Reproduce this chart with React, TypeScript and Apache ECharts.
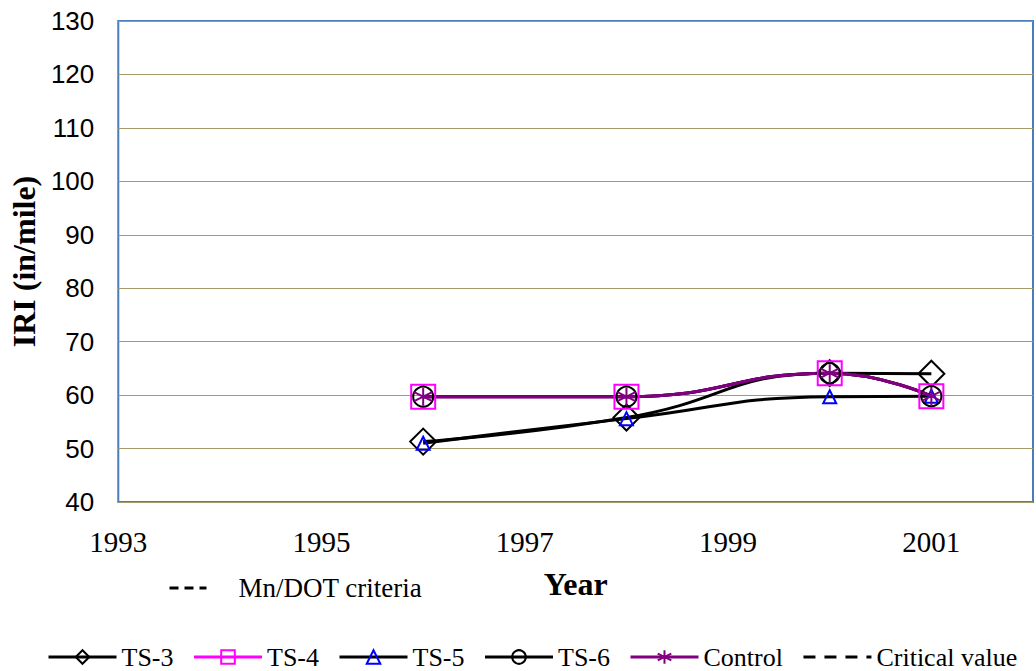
import React, { useEffect, useRef } from "react";
import * as echarts from "echarts";

const years = [1996, 1998, 2000, 2001];
const ts3 = [51.3, 55.8, 64.1, 64.0];
const ts4 = [59.7, 59.7, 64.1, 59.8];
const ts5 = [51.0, 55.6, 59.7, 59.8];
const ts6 = [59.7, 59.7, 64.1, 59.8];
const control = [59.7, 59.7, 64.1, 59.8];

const SERIF = "Liberation Serif";
const SANS = "Liberation Sans";
const ASTERISK = "path://M10,0L10,20M1.34,5L18.66,15M1.34,15L18.66,5";

const pts = (vals: number[]) => years.map((y, i) => [y, vals[i]]);

export default function App() {
  const ref = useRef<HTMLDivElement>(null);
  useEffect(() => {
    if (!ref.current) return;
    const chart = echarts.init(ref.current, undefined, { renderer: "svg" });
    const mk = (
      name: string,
      vals: number[],
      lineColor: string,
      symbol: string,
      symbolSize: number | number[],
      markColor: string,
      lineWidth = 3
    ) => ({
      name,
      type: "line",
      data: pts(vals),
      smooth: 0.5,
      symbol,
      symbolSize,
      lineStyle: { color: lineColor, width: lineWidth },
      itemStyle: { color: "transparent", borderColor: markColor, borderWidth: 2 },
      emphasis: { disabled: true },
    });
    const dashed = (name: string, dash: number[]) => ({
      name,
      type: "line",
      data: [],
      symbol: "circle",
      symbolSize: 0,
      lineStyle: { color: "#000", width: 3, type: dash },
      itemStyle: { color: "transparent", borderColor: "transparent", borderWidth: 0 },
    });
    chart.setOption({
      animation: false,
      backgroundColor: "#fff",
      grid: {
        left: 117,
        right: 3,
        top: 21,
        bottom: 169,
        show: true,
        borderColor: "#4a7ebb",
        borderWidth: 2,
        backgroundColor: "transparent",
      },
      xAxis: {
        type: "value",
        min: 1993,
        max: 2002,
        interval: 2,
        name: "Year",
        nameLocation: "middle",
        nameGap: 66,
        nameTextStyle: { fontFamily: SERIF, fontSize: 32, fontWeight: "bold", color: "#000" },
        axisLine: { show: false },
        axisTick: { show: false },
        splitLine: { show: false },
        axisLabel: {
          margin: 25,
          fontFamily: SERIF,
          fontSize: 29,
          color: "#000",
          formatter: (v: number) => (v === 2002 ? "" : String(v)),
        },
      },
      yAxis: {
        type: "value",
        min: 40,
        max: 130,
        interval: 10,
        name: "IRI (in/mile)",
        nameLocation: "middle",
        nameGap: 78,
        nameRotate: 90,
        nameTextStyle: { fontFamily: SERIF, fontSize: 32, fontWeight: "bold", color: "#000" },
        axisLine: { show: false },
        axisTick: { show: false },
        splitLine: { show: true, lineStyle: { color: "#a49a6c", width: 1 } },
        axisLabel: { margin: 24, fontFamily: SANS, fontSize: 26, color: "#000" },
      },
      legend: [
        {
          data: ["Mn/DOT criteria"],
          left: 168,
          top: 574,
          padding: 0,
          itemWidth: 37,
          itemHeight: 17,
          lineStyle: { width: 3 },
          textStyle: { fontFamily: SERIF, fontSize: 27, lineHeight: 28, color: "#000", padding: [0, 0, 0, 27] },
        },
        {
          data: ["TS-3", "TS-4", "TS-5", "TS-6", "Control", "Critical value"],
          left: 47,
          top: 644,
          padding: 0,
          itemWidth: 68,
          itemHeight: 17,
          itemGap: 19,
          lineStyle: { width: 3 },
          textStyle: { fontFamily: SERIF, fontSize: 26, lineHeight: 26, color: "#000" },
        },
      ],
      series: [
        dashed("Mn/DOT criteria", [9, 6]),
        dashed("Critical value", [12, 9]),
        mk("TS-3", ts3, "#000", "diamond", 26, "#000"),
        mk("TS-4", ts4, "#ff00ff", "rect", 24, "#ff00ff"),
        mk("TS-5", ts5, "#000", "triangle", [13, 13], "#0000ff"),
        mk("TS-6", ts6, "#000", "circle", 20, "#000"),
        mk("Control", control, "#800080", ASTERISK, 18, "#800080"),
      ],
    });
    return () => chart.dispose();
  }, []);
  return <div ref={ref} style={{ width: 1036, height: 671, position: "absolute", left: 0, top: 0 }} />;
}
